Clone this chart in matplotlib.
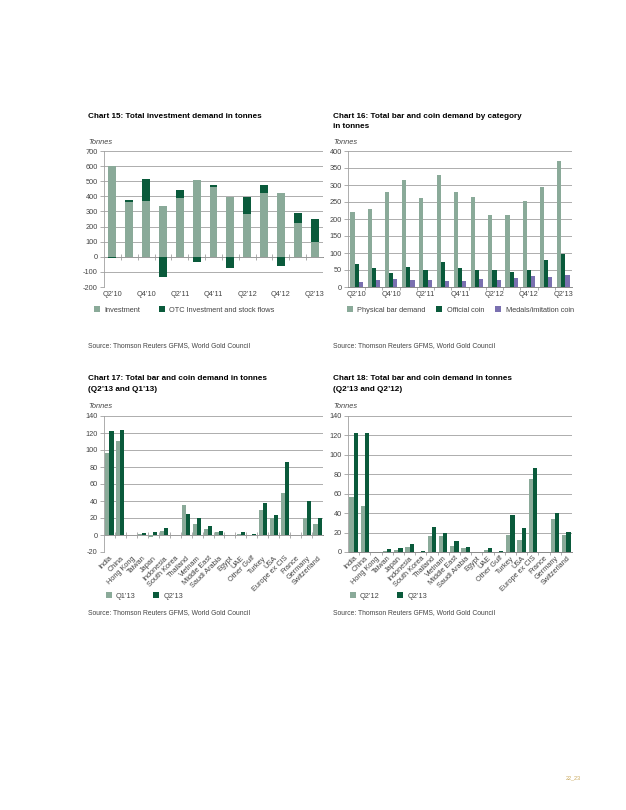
import matplotlib
matplotlib.use("Agg")
import matplotlib.pyplot as plt
import numpy as np

plt.rcParams['font.family'] = ['Liberation Sans', 'DejaVu Sans']
plt.rcParams['axes.unicode_minus'] = False

LIGHT = "#8aaa99"
DARK = "#0a5a3b"
PURPLE = "#7a70b0"
GRID = "#a0a0a0"
TXT = "#444444"
FS = 5.3

# Chart 15 data
quarters = ["Q2’10", "Q3’10", "Q4’10", "Q1’11", "Q2’11", "Q3’11", "Q4’11",
            "Q1’12", "Q2’12", "Q3’12", "Q4’12", "Q1’13", "Q2’13"]
investment = [600, 360, 370, 335, 388, 505, 462, 395, 280, 420, 420, 222, 100]
otc_flows = [-5, 15, 145, -135, 55, -35, 15, -75, 113, 52, -58, 70, 152]

# Chart 16 data
bar_demand = [222, 230, 278, 315, 262, 328, 280, 265, 212, 212, 254, 293, 370]
official_coin = [67, 57, 41, 59, 49, 73, 57, 51, 49, 43, 49, 78, 96]
medals = [15, 22, 25, 22, 22, 17, 17, 25, 20, 27, 33, 30, 36]

# Chart 17 / 18 data
countries = ["India", "China", "Hong Kong", "Taiwan", "Japan", "Indonesia",
             "South Korea", "Thailand", "Vietnam", "Middle East", "Saudi Arabia",
             "Egypt", "UAE", "Other Gulf", "Turkey", "USA", "Europe ex CIS",
             "France", "Germany", "Switzerland"]
q1_13 = [97, 111, 0.5, 1.5, -2.5, 4.5, 0.5, 35.5, 13.5, 7, 3.5, 0.5, 1.5, 0.5,
         30, 20, 50, 0.5, 20.5, 13.5]
q2_13 = [122, 123, 0.5, 2.5, 3.5, 8, 0.5, 25, 20, 11, 5, 0.5, 3.5, 1.5,
         37.5, 23.5, 86, 0.5, 40.5, 20]
q2_12 = [57, 47.5, 0.3, 1, 2, 5, 0.3, 16, 16, 6.5, 4, 0.3, 2.5, 0.5,
         18, 12.5, 75, 0.3, 34, 17]
q2_13b = [122, 123, 0.3, 3.5, 4, 8.5, 1, 25.5, 20, 11.5, 5, 0.3, 4, 1.5,
          38.5, 24.5, 86, 0.3, 40, 21]

W, H = 626, 810
fig = plt.figure(figsize=(W / 100, H / 100), dpi=100)


def px_axes(l, t, r, b):
    return fig.add_axes([l / W, 1 - b / H, (r - l) / W, (b - t) / H])


def ftext(x, y, s, **kw):
    kw.setdefault("fontsize", FS)
    kw.setdefault("color", TXT)
    fig.text(x / W, 1 - y / H, s, va="center", ha="left", **kw)


def style(ax, ymin, ymax, step, n):
    ax.set_xlim(-0.5, n - 0.5)
    ax.set_ylim(ymin, ymax)
    ax.set_yticks(np.arange(ymin, ymax + step / 2, step))
    ax.yaxis.grid(True, color=GRID, lw=0.6)
    ax.set_axisbelow(True)
    for s in ["top", "right", "bottom"]:
        ax.spines[s].set_visible(False)
    ax.spines["left"].set_color(GRID)
    ax.spines["left"].set_linewidth(0.6)
    ax.tick_params(axis="y", labelsize=FS, colors=TXT, length=3, width=0.6,
                   color=GRID, pad=1.5)
    ax.tick_params(axis="x", labelsize=FS, colors=TXT, length=0, pad=3)


def zero_ticks(ax, ymin, ymax, n, direction="inout"):
    frac = (0 - ymin) / (ymax - ymin)
    sec = ax.secondary_xaxis(frac)
    sec.set_xticks(np.arange(n - 1) + 0.5)
    sec.set_xticklabels([])
    sec.tick_params(direction=direction, length=4 if direction == "inout" else 2.5,
                    width=0.6, color=GRID)
    for s in sec.spines.values():
        s.set_color("#8a8a8a")
        s.set_linewidth(0.7)


def legend(ax, x0, y0, ncol, spacing):
    ax.legend(loc="center left", bbox_to_anchor=(x0 / W, 1 - y0 / H),
              bbox_transform=fig.transFigure, ncol=ncol, frameon=False,
              fontsize=FS, labelcolor=TXT, handlelength=0.8, handleheight=0.8,
              handletextpad=0.6, columnspacing=spacing, borderpad=0)


# ---- Chart 15
n = len(quarters)
x = np.arange(n)
ax15 = px_axes(104, 151, 323, 287)
inv = np.array(investment)
otc = np.array(otc_flows)
ax15.bar(x, inv, 0.47, color=LIGHT, label="Investment")
ax15.bar(x, otc, 0.47, bottom=np.where(otc >= 0, inv, 0), color=DARK,
         label="OTC Investment and stock flows")
style(ax15, -200, 700, 100, n)
ax15.set_xticks(x[::2], quarters[::2])
zero_ticks(ax15, -200, 700, n)
legend(ax15, 90, 310, 2, 2.6)

# ---- Chart 16
ax16 = px_axes(348, 151, 572, 287)
w = 0.24
ax16.bar(x - w, bar_demand, w, color=LIGHT, label="Physical bar demand")
ax16.bar(x, official_coin, w, color=DARK, label="Official coin")
ax16.bar(x + w, medals, w, color=PURPLE, label="Medals/imitation coin")
style(ax16, 0, 400, 50, n)
ax16.spines["bottom"].set_visible(True)
ax16.spines["bottom"].set_color("#8a8a8a")
ax16.spines["bottom"].set_linewidth(0.7)
ax16.set_xticks(x[:-1] + 0.5)
ax16.set_xticklabels([])
ax16.set_xticks(x[::2], quarters[::2], minor=True)
ax16.tick_params(axis="x", which="major", length=2.5, width=0.6, color=GRID)
ax16.tick_params(axis="x", which="minor", length=0, labelsize=FS,
                 labelcolor=TXT, pad=3)
legend(ax16, 343, 310, 3, 1.5)

# ---- Chart 17
m = len(countries)
xc = np.arange(m)
w2 = 0.37
ax17 = px_axes(104, 416, 323, 552)
ax17.bar(xc - w2 / 2, q1_13, w2, color=LIGHT, label="Q1’13")
ax17.bar(xc + w2 / 2, q2_13, w2, color=DARK, label="Q2’13")
style(ax17, -20, 140, 20, m)
ax17.set_xticks(xc, countries, rotation=45, ha="right", rotation_mode="anchor")
ax17.tick_params(axis="x", pad=2)
zero_ticks(ax17, -20, 140, m)
legend(ax17, 102, 596, 2, 2.4)

# ---- Chart 18
ax18 = px_axes(348, 416, 572, 552)
ax18.bar(xc - w2 / 2, q2_12, w2, color=LIGHT, label="Q2’12")
ax18.bar(xc + w2 / 2, q2_13b, w2, color=DARK, label="Q2’13")
style(ax18, 0, 140, 20, m)
ax18.set_xticks(xc, countries, rotation=45, ha="right", rotation_mode="anchor")
ax18.tick_params(axis="x", pad=2)
zero_ticks(ax18, 0, 140, m, direction="out")
legend(ax18, 346, 596, 2, 2.4)

# ---- titles and notes
TFS = 5.9
ftext(88, 116, "Chart 15: Total investment demand in tonnes", fontsize=TFS,
      weight="bold", color="black")
ftext(333, 116, "Chart 16: Total bar and coin demand by category", fontsize=TFS,
      weight="bold", color="black")
ftext(333, 127, "in tonnes", fontsize=TFS, weight="bold", color="black")
ftext(88, 379, "Chart 17: Total bar and coin demand in tonnes", fontsize=TFS,
      weight="bold", color="black")
ftext(88, 390, "(Q2’13 and Q1’13)", fontsize=TFS, weight="bold", color="black")
ftext(333, 379, "Chart 18: Total bar and coin demand in tonnes", fontsize=TFS,
      weight="bold", color="black")
ftext(333, 390, "(Q2’13 and Q2’12)", fontsize=TFS, weight="bold", color="black")

for xx, yy in [(88, 142), (333, 142), (88, 406), (333, 406)]:
    ftext(xx, yy, "Tonnes", style="italic")

for xx, yy in [(88, 346), (333, 346), (88, 613), (333, 613)]:
    ftext(xx, yy, "Source: Thomson Reuters GFMS, World Gold Council", fontsize=4.9)

ftext(566, 778, "22_23", fontsize=4, color="#c9a85c")

fig.savefig("out.png", dpi=100)
